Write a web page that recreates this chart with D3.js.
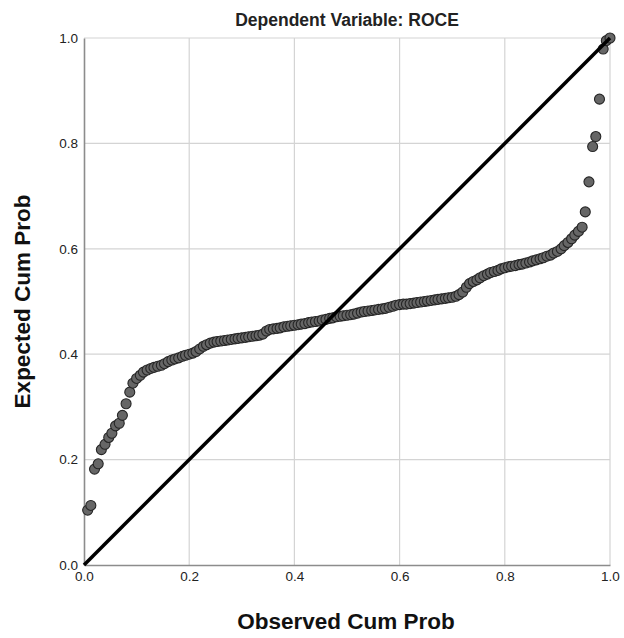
<!DOCTYPE html>
<html>
<head>
  <title>P-P Plot</title>
  <script src="https://d3js.org/d3.v7.min.js"></script>
  <style>
    body { margin: 0; background: #fff; }
    text { font-family: "Liberation Sans", Arial, sans-serif; }
  </style>
</head>
<body>
  <div id="chart"></div>

  <script>
    // chart texts and ticks
    var titleText = 'Dependent Variable: ROCE';
    var xTitle = 'Observed Cum Prob';
    var yTitle = 'Expected Cum Prob';
    var tickValues = [0, 0.2, 0.4, 0.6, 0.8, 1.0];

    // observed cum prob (x) of each residual
    var observed = [
      0.007, 0.013, 0.020, 0.027, 0.033, 0.040, 0.047, 0.053, 0.060, 0.067,
      0.073, 0.080, 0.087, 0.093, 0.100, 0.107, 0.113, 0.120, 0.127, 0.133,
      0.140, 0.147, 0.153, 0.160, 0.167, 0.173, 0.180, 0.187, 0.193, 0.200,
      0.207, 0.213, 0.220, 0.227, 0.233, 0.240, 0.247, 0.253, 0.260, 0.267,
      0.273, 0.280, 0.287, 0.293, 0.300, 0.307, 0.313, 0.320, 0.327, 0.333,
      0.340, 0.347, 0.353, 0.360, 0.367, 0.373, 0.380, 0.387, 0.393, 0.400,
      0.407, 0.413, 0.420, 0.427, 0.433, 0.440, 0.447, 0.453, 0.460, 0.467,
      0.473, 0.480, 0.487, 0.493, 0.500, 0.507, 0.513, 0.520, 0.527, 0.533,
      0.540, 0.547, 0.553, 0.560, 0.567, 0.573, 0.580, 0.587, 0.593, 0.600,
      0.607, 0.613, 0.620, 0.627, 0.633, 0.640, 0.647, 0.653, 0.660, 0.667,
      0.673, 0.680, 0.687, 0.693, 0.700, 0.707, 0.713, 0.720, 0.727, 0.733,
      0.740, 0.747, 0.753, 0.760, 0.767, 0.773, 0.780, 0.787, 0.793, 0.800,
      0.807, 0.813, 0.820, 0.827, 0.833, 0.840, 0.847, 0.853, 0.860, 0.867,
      0.873, 0.880, 0.887, 0.893, 0.900, 0.907, 0.913, 0.920, 0.927, 0.933,
      0.940, 0.947, 0.953, 0.960, 0.967, 0.973, 0.980, 0.987, 0.993, 1.000
    ];

    // expected cum prob (y)
    var expected = [
      0.104, 0.113, 0.182, 0.192, 0.219, 0.229, 0.242, 0.250, 0.264, 0.269,
      0.284, 0.306, 0.328, 0.345, 0.354, 0.360, 0.366, 0.370, 0.373, 0.375,
      0.377, 0.379, 0.382, 0.386, 0.389, 0.391, 0.393, 0.396, 0.398, 0.400,
      0.402, 0.405, 0.410, 0.415, 0.418, 0.421, 0.423, 0.424, 0.425, 0.426,
      0.427, 0.428, 0.429, 0.430, 0.431, 0.432, 0.433, 0.434, 0.435, 0.436,
      0.438, 0.444, 0.447, 0.448, 0.449, 0.450, 0.452, 0.453, 0.454, 0.455,
      0.456, 0.457, 0.458, 0.460, 0.461, 0.462, 0.463, 0.465, 0.466, 0.468,
      0.469, 0.471, 0.472, 0.473, 0.474, 0.475, 0.476, 0.478, 0.480, 0.481,
      0.482, 0.483, 0.484, 0.485, 0.486, 0.487, 0.489, 0.491, 0.493, 0.494,
      0.495, 0.495, 0.496, 0.497, 0.498, 0.499, 0.500, 0.501, 0.502, 0.503,
      0.504, 0.505, 0.506, 0.507, 0.508, 0.510, 0.513, 0.518, 0.527, 0.534,
      0.538, 0.541, 0.545, 0.549, 0.552, 0.555, 0.557, 0.559, 0.562, 0.564,
      0.566, 0.567, 0.568, 0.570, 0.571, 0.573, 0.575, 0.577, 0.579, 0.581,
      0.583, 0.586, 0.588, 0.592, 0.595, 0.600, 0.606, 0.612, 0.619, 0.626,
      0.633, 0.641, 0.670, 0.727, 0.794, 0.813, 0.884, 0.979, 0.995, 1.000
    ];

    var W = 624, H = 638;
    var margin = { top: 38, right: 14, bottom: 73, left: 84 };
    var width = W - margin.left - margin.right;
    var height = H - margin.top - margin.bottom;

    var svg = d3.select('#chart').append('svg')
      .attr('width', W)
      .attr('height', H);

    var g = svg.append('g')
      .attr('transform', 'translate(' + margin.left + ',' + margin.top + ')');

    var x = d3.scaleLinear().domain([0, 1]).range([0, width]);
    var y = d3.scaleLinear().domain([0, 1]).range([height, 0]);

    // grid lines
    g.append('g').selectAll('line.vg')
      .data(tickValues.slice(1))
      .enter().append('line')
      .attr('x1', function(d) { return x(d); })
      .attr('x2', function(d) { return x(d); })
      .attr('y1', 0).attr('y2', height)
      .attr('stroke', '#d4d4d4').attr('stroke-width', 1.2);

    g.append('g').selectAll('line.hg')
      .data(tickValues.slice(1))
      .enter().append('line')
      .attr('y1', function(d) { return y(d); })
      .attr('y2', function(d) { return y(d); })
      .attr('x1', 0).attr('x2', width)
      .attr('stroke', '#d4d4d4').attr('stroke-width', 1.2);

    // axes
    var xAxis = d3.axisBottom(x).tickValues(tickValues).tickFormat(d3.format('.1f')).tickSize(0).tickPadding(6);
    var yAxis = d3.axisLeft(y).tickValues(tickValues).tickFormat(d3.format('.1f')).tickSize(0).tickPadding(6);

    var gx = g.append('g').attr('transform', 'translate(0,' + height + ')').call(xAxis);
    var gy = g.append('g').call(yAxis);

    [gx, gy].forEach(function(a) {
      a.select('.domain').attr('stroke', '#8c8c8c').attr('stroke-width', 1.6);
      a.selectAll('text').attr('font-size', 13.5).attr('fill', '#222')
        .attr('font-family', '"Liberation Sans", Arial, sans-serif');
    });
    gy.selectAll('text').attr('dy', '0.32em');

    // points
    var pts = observed.map(function(d, i) { return { o: d, e: expected[i] }; });
    g.append('g').selectAll('circle')
      .data(pts)
      .enter().append('circle')
      .attr('cx', function(d) { return x(d.o); })
      .attr('cy', function(d) { return y(d.e); })
      .attr('r', 5)
      .attr('fill', '#666')
      .attr('stroke', '#262626')
      .attr('stroke-width', 1.1);

    // reference line
    g.append('line')
      .attr('x1', x(0)).attr('y1', y(0))
      .attr('x2', x(1)).attr('y2', y(1))
      .attr('stroke', '#000').attr('stroke-width', 3.5);

    // titles
    svg.append('text')
      .attr('x', margin.left + width / 2).attr('y', 26)
      .attr('text-anchor', 'middle')
      .attr('font-size', 17.5).attr('font-weight', 'bold').attr('fill', '#222')
      .text(titleText);

    svg.append('text')
      .attr('x', margin.left + width / 2 - 1).attr('y', 629)
      .attr('text-anchor', 'middle')
      .attr('font-size', 22.5).attr('font-weight', 'bold').attr('fill', '#111')
      .text(xTitle);

    svg.append('text')
      .attr('transform', 'translate(30,' + (margin.top + height / 2) + ') rotate(-90)')
      .attr('text-anchor', 'middle')
      .attr('font-size', 22.5).attr('font-weight', 'bold').attr('fill', '#111')
      .text(yTitle);
  </script>
</body>
</html>
